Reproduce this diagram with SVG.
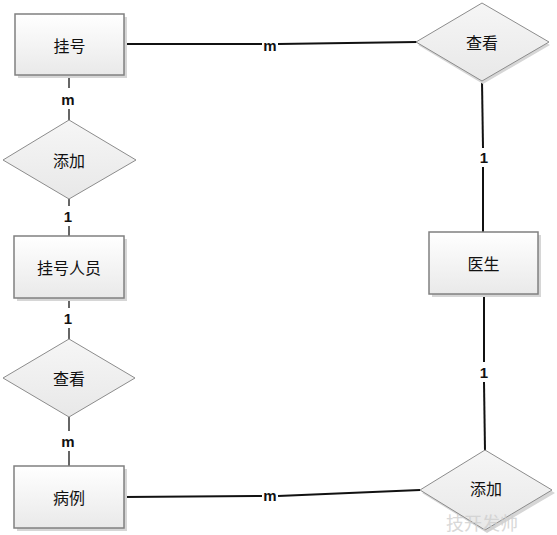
<svg xmlns="http://www.w3.org/2000/svg" width="557" height="535" viewBox="0 0 557 535">
<defs>
<linearGradient id="g" x1="0" y1="0" x2="0" y2="1"><stop offset="0" stop-color="#ffffff"/><stop offset="1" stop-color="#e9e9e9"/></linearGradient>
<linearGradient id="gd" x1="0" y1="0" x2="0" y2="1"><stop offset="0" stop-color="#f6f6f6"/><stop offset="1" stop-color="#e8e8e8"/></linearGradient>
</defs>
<style>
.sh{fill:#d6d6d6}
.box{fill:url(#g);stroke:#808080;stroke-width:1.5}
.dia{fill:url(#gd);stroke:#8c8c8c;stroke-width:1}
.t{font-family:"Noto Sans CJK SC","Liberation Sans",sans-serif;font-size:16px;fill:#111;text-anchor:middle;dominant-baseline:central}
.c{stroke:#111;stroke-width:2;fill:none}
.cl{stroke:#333;stroke-width:1.5;fill:none}
.lb{font-family:"Liberation Sans",Arial,sans-serif;font-size:15px;font-weight:bold;fill:#111;text-anchor:middle;dominant-baseline:central}
.wm{font-family:"Noto Sans CJK SC",sans-serif;font-size:18px;fill:#cfcfcf;opacity:0.8}
</style>
<g id="connectors">
<line class="c" x1="124" y1="44" x2="262" y2="44"/>
<line class="c" x1="278" y1="44" x2="417" y2="42"/>
<line class="c" x1="482" y1="81" x2="483" y2="148"/>
<line class="c" x1="483" y1="167" x2="483" y2="232"/>
<line class="c" x1="484" y1="294" x2="484" y2="362"/>
<line class="c" x1="484" y1="382" x2="485" y2="451"/>
<line class="c" x1="124" y1="497" x2="262" y2="496"/>
<line class="c" x1="278" y1="496" x2="420" y2="490"/>
<line class="cl" x1="69" y1="76" x2="69" y2="88"/>
<line class="cl" x1="69" y1="109" x2="69" y2="120"/>
<line class="cl" x1="69" y1="199" x2="69" y2="206"/>
<line class="cl" x1="69" y1="226" x2="69" y2="236"/>
<line class="cl" x1="69" y1="298" x2="69" y2="308"/>
<line class="cl" x1="69" y1="328" x2="69" y2="339"/>
<line class="cl" x1="69" y1="417" x2="69" y2="431"/>
<line class="cl" x1="69" y1="451" x2="69" y2="466"/>
<text class="lb" x="270" y="45">m</text>
<text class="lb" x="484" y="157">1</text>
<text class="lb" x="484" y="372">1</text>
<text class="lb" x="270" y="495">m</text>
<text class="lb" x="68" y="99">m</text>
<text class="lb" x="68" y="216">1</text>
<text class="lb" x="68" y="318">1</text>
<text class="lb" x="68" y="441">m</text>
</g>
<g id="n1">
<rect class="sh" x="18" y="17" width="109" height="61"/>
<rect class="box" x="15" y="14" width="109" height="61"/>
<text class="t" x="69.5" y="45">挂号</text>
</g>
<g id="n2">
<polygon class="sh" points="483,6 550,45 483,84 418,45"/>
<polygon class="dia" points="482,3 549,42 482,81 416,42"/>
<text class="t" x="482" y="42">查看</text>
</g>
<g id="n3">
<rect class="sh" x="432" y="235" width="109" height="62"/>
<rect class="box" x="429" y="232" width="109" height="62"/>
<text class="t" x="483.5" y="263">医生</text>
</g>
<g id="n4">
<polygon class="dia" points="69,120 136,160 69,199 3,160"/>
<text class="t" x="69" y="160">添加</text>
</g>
<g id="n5">
<rect class="sh" x="17" y="239" width="110" height="62"/>
<rect class="box" x="14" y="236" width="110" height="62"/>
<text class="t" x="69" y="267">挂号人员</text>
</g>
<g id="n6">
<polygon class="dia" points="69,339 135,378 69,417 3,378"/>
<text class="t" x="69" y="378">查看</text>
</g>
<g id="n7">
<rect class="sh" x="17" y="469" width="110" height="62"/>
<rect class="box" x="14" y="466" width="110" height="62"/>
<text class="t" x="69" y="497">病例</text>
</g>
<g id="n8">
<polygon class="sh" points="487,453 555,493 487,533 422,493"/>
<polygon class="dia" points="485,450 552,490 485,530 420,490"/>
<text class="t" x="486" y="488">添加</text>
</g>
<text class="wm" x="446" y="530">技开发帅</text>
</svg>
